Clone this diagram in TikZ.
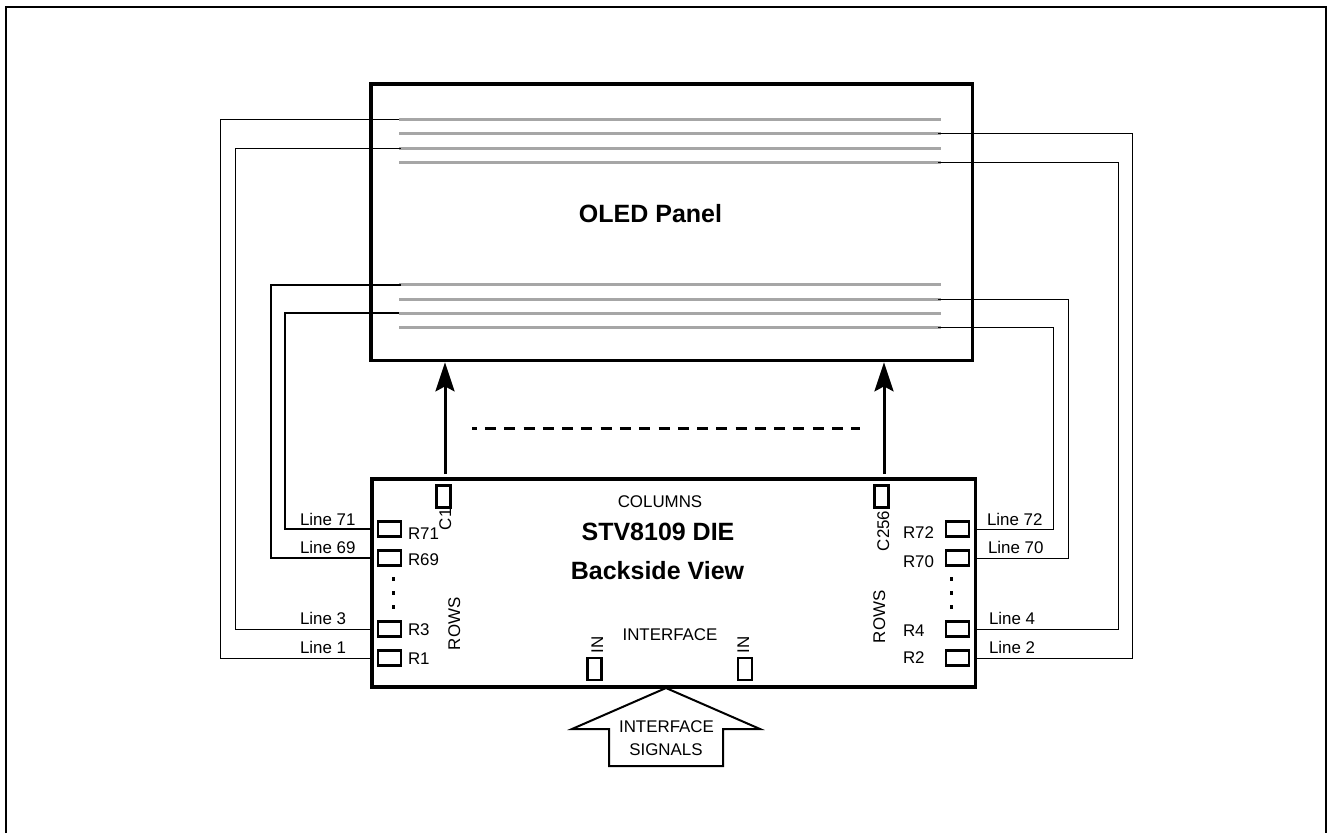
\documentclass[tikz,border=0pt]{standalone}
\usepackage{fontspec}
\setmainfont{Liberation Sans}
\usetikzlibrary{arrows.meta,positioning,calc}
\definecolor{bargray}{HTML}{A6A6A6}
\tikzset{box/.style={draw,line width=3.2pt,inner sep=0pt,outer sep=0pt},
 padh/.style={draw,line width=2.6pt,inner sep=0pt,outer sep=0pt,minimum width=23pt,minimum height=15pt},
 padv/.style={draw,line width=2.6pt,inner sep=0pt,outer sep=0pt,minimum width=14pt,minimum height=22pt},
 bar/.style={bargray,line width=3pt},
 wire/.style={line width=1pt},wirek/.style={line width=2pt},
 flow/.style={-{Stealth[length=29pt,width=19pt,inset=5pt]},line width=3pt},
 txt/.style={font=\fontsize{16.9}{20}\selectfont,inner sep=0pt,outer sep=0pt},
 ttl/.style={font=\fontsize{25}{28}\selectfont\bfseries,inner sep=0pt,outer sep=0pt,anchor=base}}

\begin{document}
\begin{tikzpicture}[x=1pt,y=-1pt]
\useasboundingbox(0,0)rectangle(1327,833);
\draw[line width=2pt](6,833)--(6,7)--(1326,7)--(1326,833);
\node[box,minimum width=601.5pt,minimum height=276.3pt](panel) at(671.7,222.2){};
\node[box,minimum width=603.5pt,minimum height=208pt](die) at(673.7,583){};
\node[ttl](oled) at(650.5,222){OLED Panel};
\node[ttl](stv) at(658,540){STV8109 DIE};
\node[ttl](back) at(657.5,579){Backside View};
\node[txt,anchor=base](cols) at(660,507){COLUMNS};
\node[txt,anchor=base](ifc) at(670,640){INTERFACE};
% lines across the panel
\foreach \n/\y in {1/119,2/133,3/148,4/162,69/284.5,70/299,71/313,72/327}{
 \coordinate(a\n) at(399,\y);\coordinate(b\n) at(941,\y);
 \draw[bar](a\n)--(b\n);}
% row pads
\foreach \n/\y/\b in {71/529/539,69/558/565,3/629/635,1/658/664}{
 \node[padh](r\n) at(389.5,\y){};
 \node[txt,anchor=base west](rt\n) at(408,\b){R\n};}
\foreach \n/\y/\b in {72/529/538,70/558/567,4/629/636,2/658/663}{
 \node[padh](r\n) at(957.3,\y){};
 \node[txt,anchor=base west](rt\n) at(903,\b){R\n};}
\foreach \n/\x/\b in {71/300/525,69/300/553,3/300/624,1/300/653,72/987/525,70/988/553,4/989/624,2/989/653}{
 \node[txt,anchor=base west](lt\n) at(\x,\b){Line \n};}
% wires to the panel
\foreach \n/\x/\s in {1/220/0,3/235/-2}{
 \coordinate(v\n) at(\x,0);
 \draw[wire](die.west|-r\n)-|(v\n|-a\n)--([xshift=-\s pt]a\n);}
\foreach \n/\x/\s in {69/271/-2,71/285/0}{
 \coordinate(v\n) at(\x,0);
 \draw[wirek](die.west|-r\n)-|(v\n|-a\n)--([xshift=-\s pt]a\n);}
\foreach \n/\x in {2/1132,4/1118,70/1068,72/1053}{
 \coordinate(v\n) at(\x,0);
 \draw[wire](die.east|-r\n)-|(v\n|-b\n)--([xshift=-3pt]b\n);}
% column and interface pads
\node[padv](c1) at(443.3,496.3){};\node[padv](c256) at(881.7,496.3){};
\node[padv](in1) at(594.7,668.8){};\node[padv](in2) at(745,668.8){};
\node[txt,rotate=90,anchor=base west](c1t) at(451,530){C1};
\node[txt,rotate=90,anchor=base west](c256t) at(889,551){C256};
\node[txt,rotate=90,anchor=base west](in1t) at(603,653){IN};
\node[txt,rotate=90,anchor=base west](in2t) at(749,653){IN};
\node[txt,rotate=90,anchor=base west](rows1) at(460,650){ROWS};
\node[txt,rotate=90,anchor=base west](rows2) at(885,643){ROWS};
\foreach \x in {393,951}{\draw[line width=3pt,dash pattern=on 4pt off 10pt](\x,577)--(\x,610);}
% bus arrows
\coordinate(fa) at(445,474);\coordinate(fb) at(884,474);
\draw[flow,shorten >=2pt](fa)--(fa|-panel.south);
\draw[flow,shorten >=2pt](fb)--(fb|-panel.south);
\coordinate(da) at(472,428.5);\coordinate(db) at(860,428.5);
\draw[line width=3pt,dash pattern=on 11pt off 8.28pt,dash phase=6.3pt](da)--(db);
% interface arrow
\draw[line width=2pt,line join=miter](666,688)--(572,729)--(609,729)--(609,766)--(723,766)--(723,729)--(760,729)--cycle;
\node[txt,anchor=base](sig1) at(666.5,732){INTERFACE};
\node[txt,anchor=base](sig2) at(666,755){SIGNALS};
\end{tikzpicture}
\end{document}
